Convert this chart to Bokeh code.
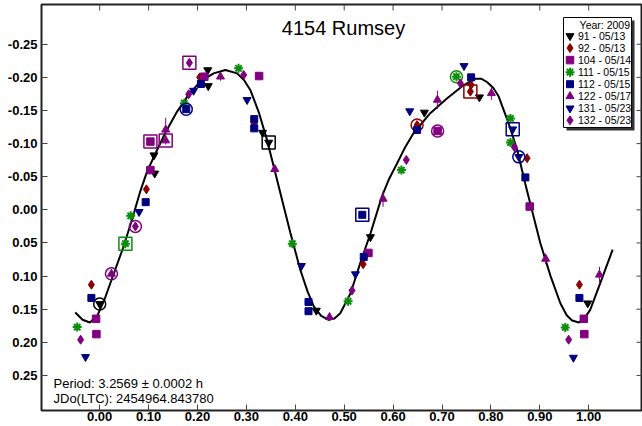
from bokeh.plotting import figure
from bokeh.models import Range1d, FixedTicker, NumeralTickFormatter, Label
from bokeh.core.properties import value
from bokeh.embed import file_html
from bokeh.resources import INLINE

FONT = "Liberation Sans"

# Phase on x, relative magnitude on y (brighter upward, so y runs reversed)
X_RANGE = (-0.119, 1.110)
Y_RANGE = (0.3029, -0.31)

x_ticks = [0.0, 0.1, 0.2, 0.3, 0.4, 0.5, 0.6, 0.7, 0.8, 0.9, 1.0]
y_ticks = [-0.25, -0.20, -0.15, -0.10, -0.05, 0.0, 0.05, 0.10, 0.15, 0.20, 0.25]

# Fourier fit of the lightcurve
fit_phase = [-0.050, -0.035, -0.020, -0.005, 0.010, 0.025, 0.049, 0.066, 0.083, 0.097,
             0.114, 0.134, 0.158, 0.182, 0.206, 0.233, 0.257, 0.281, 0.295, 0.308,
             0.325, 0.342, 0.356, 0.372, 0.390, 0.410, 0.425, 0.438, 0.453, 0.468,
             0.480, 0.492, 0.513, 0.533, 0.554, 0.577, 0.592, 0.608, 0.625, 0.642,
             0.676, 0.710, 0.744, 0.768, 0.780, 0.792, 0.805, 0.816, 0.836, 0.854,
             0.870, 0.881, 0.901, 0.922, 0.942, 0.955, 0.966, 0.980, 0.992, 1.003,
             1.024, 1.049]
fit_mag = [0.155, 0.166, 0.170, 0.160, 0.135, 0.104, 0.055, 0.015, -0.028, -0.058,
           -0.085, -0.116, -0.148, -0.174, -0.194, -0.206, -0.211, -0.206, -0.196, -0.181,
           -0.148, -0.106, -0.065, -0.018, 0.035, 0.090, 0.123, 0.146, 0.160, 0.166,
           0.164, 0.156, 0.126, 0.080, 0.035, -0.020, -0.047, -0.070, -0.095, -0.116,
           -0.146, -0.168, -0.188, -0.198, -0.198, -0.193, -0.184, -0.171, -0.131, -0.090,
           -0.040, -0.008, 0.050, 0.100, 0.141, 0.159, 0.167, 0.170, 0.163, 0.151,
           0.110, 0.060]

# Observing sessions (phase, magnitude)
phase_91 = [0.000, 0.111, 0.1125, 0.221, 0.222, 0.333, 0.3456, 0.443, 0.5536, 0.664, 0.7765, 0.998]
mag_91 = [0.142, -0.0825, -0.055, -0.211, -0.187, -0.1166, -0.1016, 0.152, 0.041, -0.147, -0.170, 0.141]

phase_92 = [-0.017, 0.0955, 0.2045, 0.316, 0.5387, 0.649, 0.758, 0.7595, 0.874, 0.981]
mag_92 = [0.113, -0.031, -0.200, -0.130, 0.082, -0.128, -0.1785, -0.1886, -0.078, 0.113]

phase_104 = [-0.0074, -0.0067, 0.1037, 0.1037, 0.214, 0.326, 0.5495, 0.691, 0.8794, 0.990, 0.991]
mag_104 = [0.1645, 0.1876, -0.103, -0.060, -0.201, -0.202, 0.065, -0.119, -0.005, 0.1645, 0.1876]

phase_111 = [-0.046, 0.0526, 0.0634, 0.173, 0.284, 0.394, 0.508, 0.617, 0.7295, 0.840, 0.840, 0.952]
mag_111 = [0.177, 0.051, 0.009, -0.161, -0.2137, 0.051, 0.138, -0.060, -0.201, -0.138, -0.1016, 0.1775]

phase_112 = [-0.017, 0.094, 0.177, 0.207, 0.316, 0.316, 0.427, 0.427, 0.537, 0.540, 0.649, 0.7595, 0.8705, 0.981]
mag_112 = [0.133, -0.0116, -0.152, -0.190, -0.137, -0.123, 0.139, 0.153, 0.0075, 0.071, -0.1207, -0.200, -0.049, 0.133]

phase_122 = [0.024, 0.135, 0.135, 0.247, 0.358, 0.470, 0.5795, 0.6906, 0.801, 0.912, 1.022]
mag_122 = [0.0966, -0.1046, -0.121, -0.201, -0.0614, 0.162, -0.0166, -0.166, -0.176, 0.074, 0.098]
err_122 = [0.006, 0.006, 0.018, 0.006, 0.006, 0.006, 0.012, 0.014, 0.010, 0.008, 0.012]

phase_131 = [-0.029, 0.0805, 0.192, 0.3014, 0.4125, 0.523, 0.634, 0.745, 0.8446, 0.857, 0.9687]
mag_131 = [0.222, 0.003, -0.180, -0.166, 0.0845, 0.097, -0.149, -0.2173, -0.1217, -0.080, 0.223]

phase_132 = [-0.039, 0.073, 0.182, 0.1834, 0.2945, 0.516, 0.627, 0.7376, 0.848, 0.959]
mag_132 = [0.196, 0.025, -0.1745, -0.222, -0.2037, 0.1217, -0.0754, -0.191, -0.0946, 0.196]

session_labels = ["91 - 05/13", "92 - 05/13", "104 - 05/14", "111 - 05/15",
                  "112 - 05/15", "122 - 05/17", "131 - 05/23", "132 - 05/23"]
session_phase = [phase_91, phase_92, phase_104, phase_111, phase_112, phase_122, phase_131, phase_132]
session_mag = [mag_91, mag_92, mag_104, mag_111, mag_112, mag_122, mag_131, mag_132]
# index of the point marked with a square and with a circle in each session
boxed_idx = [6, 6, 2, 1, 8, 1, 8, 3]
ringed_idx = [0, 5, 7, 8, 2, 0, 9, 1]

PURPLE = "#800080"
NAVY = "#000080"
DARKRED = "#8b0000"
GREEN = "#0a8f0a"
styles = [
    dict(marker="inverted_triangle", color="black", size=8),
    dict(marker="diamond", color=DARKRED, size=9),
    dict(marker="square", color=PURPLE, size=7.5),
    dict(marker="asterisk", color=GREEN, size=9),
    dict(marker="square", color=NAVY, size=7),
    dict(marker="triangle", color=PURPLE, size=8),
    dict(marker="inverted_triangle", color=NAVY, size=8),
    dict(marker="diamond", color=PURPLE, size=9),
]

# frame geometry in pixels, used to place the annotations
W, H = 642, 426
F_LEFT, F_RIGHT, F_TOP, F_BOTTOM = 41, 642, 4, 410
TICK = 6


def xd(px):
    return X_RANGE[0] + (px - F_LEFT) / (F_RIGHT - F_LEFT) * (X_RANGE[1] - X_RANGE[0])


def yd(py):
    return Y_RANGE[1] + (py - F_TOP) / (F_BOTTOM - F_TOP) * (Y_RANGE[0] - Y_RANGE[1])


p = figure(width=W, height=H, x_range=Range1d(*X_RANGE), y_range=Range1d(*Y_RANGE),
           output_backend="svg", toolbar_location=None,
           min_border_left=F_LEFT, min_border_right=W - F_RIGHT,
           min_border_top=F_TOP, min_border_bottom=H - F_BOTTOM,
           outline_line_color="#222222", outline_line_width=2,
           background_fill_color="white", border_fill_color="white")
p.grid.visible = False

for ax, ticks, standoff in ((p.xaxis[0], x_ticks, 1), (p.yaxis[0], y_ticks, 4)):
    ax.ticker = FixedTicker(ticks=ticks)
    ax.formatter = NumeralTickFormatter(format="0.00")
    ax.major_label_text_font = FONT
    ax.major_label_text_font_style = "bold"
    ax.major_label_text_font_size = "13px"
    ax.major_label_text_color = "black"
    ax.major_label_standoff = standoff
    ax.major_tick_in = TICK
    ax.major_tick_out = 0
    ax.minor_tick_in = 0
    ax.minor_tick_out = 0
    ax.axis_line_color = None
    ax.major_tick_line_color = "#444444"

# inward ticks along the top and right edges of the frame
n_x = len(x_ticks)
n_y = len(y_ticks)
p.segment(x_ticks, [Y_RANGE[1]] * n_x, x_ticks, [yd(F_TOP + TICK)] * n_x,
          line_color="#444444", line_width=1)
p.segment([X_RANGE[1]] * n_y, y_ticks, [xd(F_RIGHT - TICK)] * n_y, y_ticks,
          line_color="#444444", line_width=1)

# fitted curve
p.line(fit_phase, fit_mag, line_color="black", line_width=2)

# sessions
for k, (phase, mag, st, bi, ri) in enumerate(zip(session_phase, session_mag, styles,
                                                 boxed_idx, ringed_idx)):
    if k == 5:
        lo = [m - e for m, e in zip(mag, err_122)]
        hi = [m + e for m, e in zip(mag, err_122)]
        p.segment(phase, lo, phase, hi, line_color=st["color"], line_width=1)
    lw = 2 if st["marker"] == "asterisk" else 1
    p.scatter(phase, mag, marker=st["marker"], size=st["size"], fill_color=st["color"],
              line_color=st["color"], line_width=lw)
    p.scatter([phase[bi]], [mag[bi]], marker="square", size=13, fill_color=None,
              line_color=st["color"], line_width=1.5)
    p.scatter([phase[ri]], [mag[ri]], marker="circle", size=12, fill_color=None,
              line_color=st["color"], line_width=1.5)

# title and fit details (positions are text centres)
p.add_layout(Label(x=xd(343), y=yd(27.5), text="4154 Rumsey", text_align="center",
                   text_baseline="middle", text_font=FONT, text_font_size="20px",
                   text_color="black"))
p.add_layout(Label(x=xd(53), y=yd(383), text="Period: 3.2569 \u00b1 0.0002 h",
                   text_align="left", text_baseline="middle", text_font=FONT,
                   text_font_size="13px", text_color="black"))
p.add_layout(Label(x=xd(53), y=yd(398), text="JDo(LTC): 2454964.843780",
                   text_align="left", text_baseline="middle", text_font=FONT,
                   text_font_size="13px", text_color="black"))

# legend box with drop shadow
LG_L, LG_T, LG_R, LG_B = 563, 17, 631, 127
p.quad(left=[xd(LG_L + 3)], right=[xd(LG_R + 3)], top=[yd(LG_T + 3)], bottom=[yd(LG_B + 3)],
       fill_color="#333333", line_color=None)
p.quad(left=[xd(LG_L)], right=[xd(LG_R)], top=[yd(LG_T)], bottom=[yd(LG_B)],
       fill_color="white", line_color="black", line_width=1)
p.text([xd(629.5)], [yd(24)], text=["Year: 2009"], text_align="right", text_baseline="middle",
       text_font=value(FONT), text_font_size="10.5px", text_color="black")
ROW0, PITCH = 35.5, 12.05
for i, (lab, st) in enumerate(zip(session_labels, styles)):
    yy = yd(ROW0 + PITCH * i)
    lw = 2 if st["marker"] == "asterisk" else 1
    p.scatter([xd(569.5)], [yy], marker=st["marker"], size=st["size"], fill_color=st["color"],
              line_color=st["color"], line_width=lw)
    p.text([xd(577.5)], [yy], text=[lab], text_align="left", text_baseline="middle",
           text_font=value(FONT), text_font_size="10.5px", text_color="black")

open("out.html", "w").write(file_html(p, INLINE))
